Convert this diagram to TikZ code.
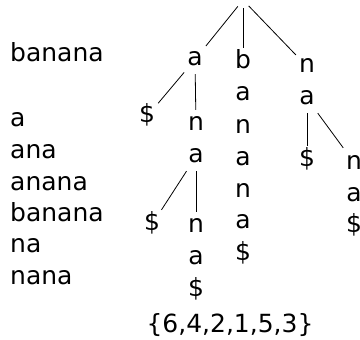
\documentclass[tikz,border=0pt]{standalone}
\usepackage{fontspec}
\setmainfont{DejaVu Sans}
\usetikzlibrary{positioning}

\begin{document}
\begin{tikzpicture}[x=1pt,y=-1pt,node distance=32pt,on grid]
		\tikzset{lbl/.style={font=\fontsize{25}{32}\selectfont,text height=18pt,text depth=5pt,inner sep=3pt}}
		\tikzset{word/.style={font=\fontsize{25}{32}\selectfont,inner sep=0pt,anchor=base west}}
		\useasboundingbox[fill=white] (0,0) rectangle (360,340);
		
		% suffixes of the word
		\node[word] (w_0) at (10,62)  {banana};
		\node[word] (w_1) at (10,127) {a};
		\node[word] (w_2) at (10,158) {ana};
		\node[word] (w_3) at (10,190) {anana};
		\node[word] (w_4) at (10,222) {banana};
		\node[word] (w_5) at (10,253) {na};
		\node[word] (w_6) at (10,285) {nana};
		
		% suffix tree
		\node[circle,inner sep=0pt,minimum size=16pt] (root) at (243,0) {};
		
		\node[lbl,anchor=base] (a_1) at (195,66)  {a};
		\node[lbl,anchor=base] (b_1) at (243,69)  {b};
		\node[lbl]             (b_2) [below=of b_1] {a};
		\node[lbl]             (b_3) [below=of b_2] {n};
		\node[lbl]             (b_4) [below=of b_3] {a};
		\node[lbl]             (b_5) [below=of b_4] {n};
		\node[lbl]             (b_6) [below=of b_5] {a};
		\node[lbl]             (b_7) [below=of b_6] {\$};
		\node[lbl,anchor=base] (n_1) at (307,73)  {n};
		\node[lbl]             (a_5) [below=of n_1] {a};
		
		\node[lbl,anchor=base] (d_1) at (147,123) {\$};
		\node[lbl,anchor=base] (n_2) at (196,131) {n};
		\node[lbl]             (a_3) [below=of n_2] {a};
		\node[lbl,anchor=base] (d_3) at (307,167) {\$};
		\node[lbl,anchor=base] (n_4) at (354,169) {n};
		\node[lbl]             (a_6) [below=of n_4] {a};
		\node[lbl]             (d_6) [below=of a_6] {\$};
		
		\node[lbl,anchor=base] (d_2) at (152,231) {\$};
		\node[lbl,anchor=base] (n_3) at (196,233) {n};
		\node[lbl]             (a_4) [below=of n_3] {a};
		\node[lbl]             (d_4) [below=of a_4] {\$};
		
		\node[lbl,anchor=base] (pos) at (230,333) {\{6,4,2,1,5,3\}};
		
		\path[line width=0.8pt]
		(root) edge (a_1)
		edge (b_1)
		edge (n_1)
		(a_1) edge (d_1)
		edge (n_2)
		(a_3) edge (d_2)
		edge (n_3)
		(a_5) edge (d_3)
		edge (n_4);
		
\end{tikzpicture}
\end{document}
